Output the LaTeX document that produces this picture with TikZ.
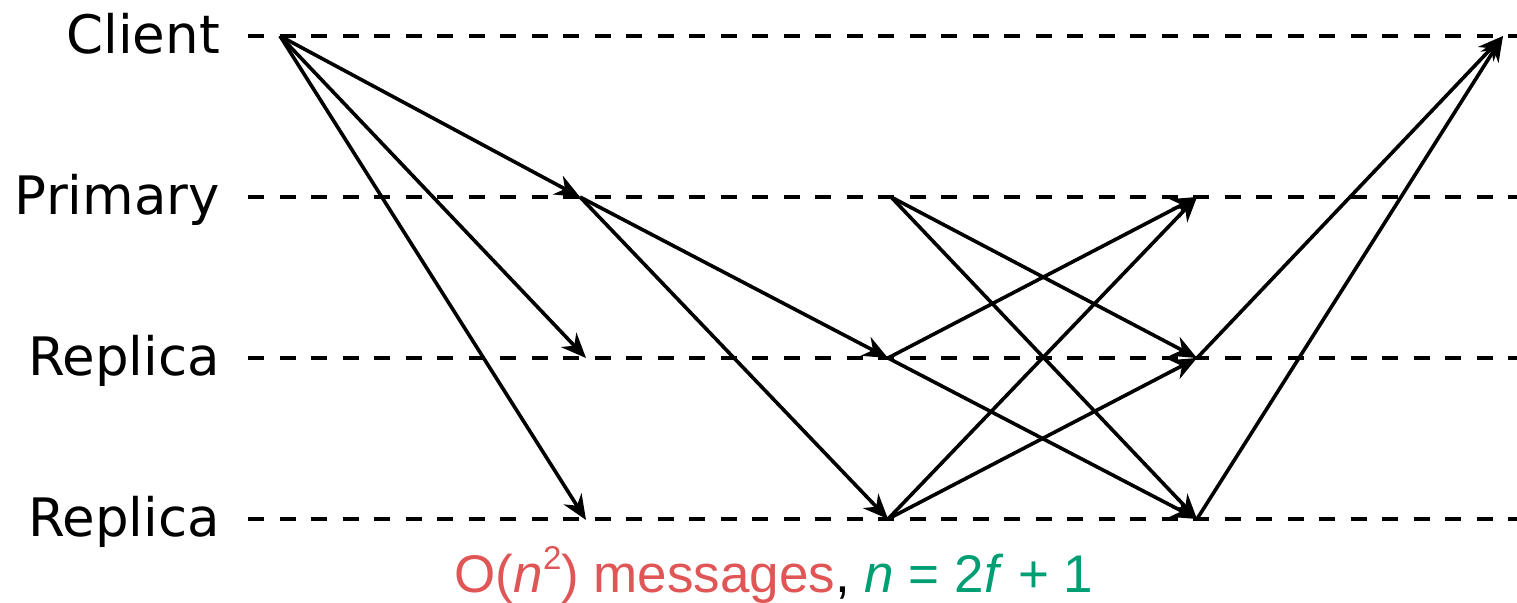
\documentclass[tikz,border=0pt]{standalone}
\usepackage{fontspec}
\setmainfont{Liberation Sans}
\newfontfamily\labfont{DejaVu Sans}
\usetikzlibrary{arrows.meta}
\definecolor{msgred}{HTML}{E05555}
\definecolor{msggreen}{HTML}{009E73}
\begin{document}
\begin{tikzpicture}[x=1pt,y=-1pt,
  lane/.style={line width=3.6pt, dash pattern=on 16pt off 15.5pt},
  msg/.style={line width=3.6pt, -{Stealth[length=25pt,width=21pt,inset=8pt]}},
  lanelabel/.style={anchor=base east, inner sep=0pt, font=\labfont\fontsize{53}{60}\selectfont}]
\useasboundingbox (0,0) rectangle (1517,602);
% lanes
\foreach \n/\y/\t in {client/36/Client, primary/197/Primary, repa/358/Replica, repb/519/Replica}{
  \node[lanelabel] (lab\n) at (220,\y+17) {\t};
  \coordinate (L\n) at (248,\y);
  \coordinate (R\n) at (1517,\y);
  \draw[lane] (L\n) -- (R\n);
}
% event points
\coordinate (c0) at (280,36);
\coordinate (p1) at (580,197);
\coordinate (a1) at (586,358);
\coordinate (b1) at (586,520);
\coordinate (p2) at (891,197);
\coordinate (a2) at (888,358);
\coordinate (b2) at (888,519);
\coordinate (p3) at (1197,197);
\coordinate (a3) at (1197,358);
\coordinate (b3) at (1197,519);
\coordinate (c4) at (1503,36);
% request
\draw[msg] (c0) -- (p1);
\draw[msg] (c0) -- (a1);
\draw[msg] (c0) -- (b1);
% pre-prepare
\draw[msg] (p1) -- (a2);
\draw[msg] (p1) -- (b2);
% prepare / commit
\draw[msg] (a2) -- (p3);
\draw[msg] (b2) -- (p3);
\draw[msg] (p2) -- (a3);
\draw[msg] (p2) -- (b3);
\draw[msg] (a2) -- (b3);
\draw[msg] (b2) -- (a3);
% reply
\draw[msg] (a3) -- (c4);
\draw[msg] (b3) -- (c4);
% caption
\node[anchor=base, inner sep=0pt, font=\fontsize{53}{60}\selectfont] (cap) at (774,592)
  {\textcolor{msgred}{O(\textit{n}\raisebox{0.42em}{\fontsize{33}{33}\selectfont 2}) messages}, \textcolor{msggreen}{\textit{n} = 2\textit{f} + 1}};
\end{tikzpicture}
\end{document}
